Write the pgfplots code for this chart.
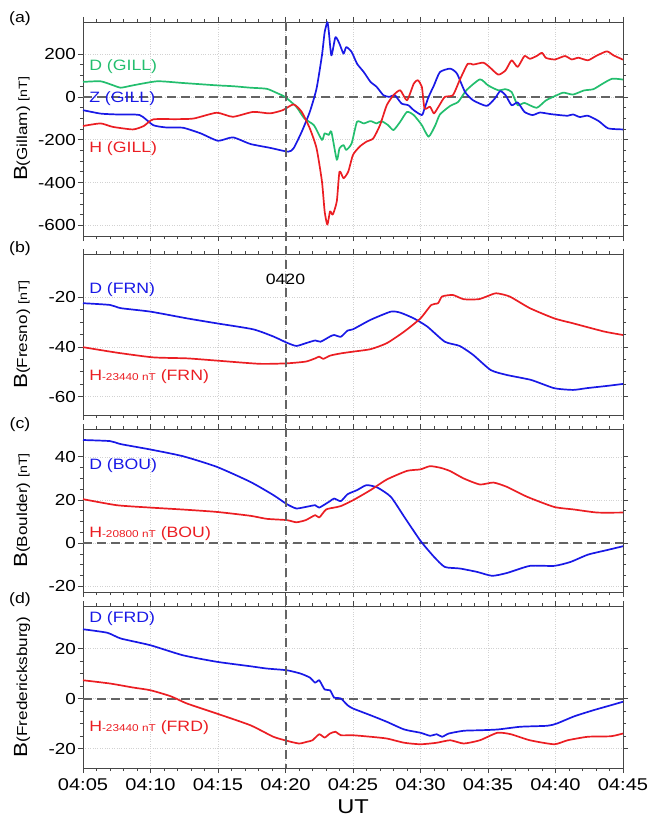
\documentclass[border=0pt]{standalone}
\usepackage{fontspec}
\setmainfont[FakeStretch=1.18]{Liberation Sans}
\usepackage{pgfplots}
\pgfplotsset{compat=1.18}

\definecolor{cgreen}{RGB}{35,190,110}
\definecolor{cblue}{RGB}{25,25,230}
\definecolor{cred}{RGB}{235,30,35}
\definecolor{axgray}{RGB}{70,70,70}
\definecolor{dashgray}{RGB}{100,100,100}

\newcommand{\fs}[1]{\fontsize{#1}{#1}\selectfont}

\tikzset{
  curve/.style={line width=1.7pt, line join=round, smooth, tension=0.35},
  zline/.style={dashgray, dash pattern=on 9pt off 5pt, line width=2pt},
  lbl/.style={anchor=west, font=\fs{15}, inner sep=0pt},
}

\pgfplotsset{
  mag/.style={
    scale only axis, width=540pt,
    xmin=5, xmax=45,
    xtick={5,10,...,45}, minor x tick num=4,
    minor y tick num=3,
    tick align=outside,
    xtick pos=both, ytick pos=both,
    major tick length=5pt, minor tick length=3pt,
    grid=major,
    major grid style={dotted, gray!35, line width=0.6pt},
    axis line style={axgray, line width=0.9pt},
    every tick/.style={axgray, line width=0.8pt},
    tick label style={font=\fs{16}},
    /pgf/number format/assume math mode=true,
    yticklabel style={inner sep=2pt},
    xticklabels={},
    ylabel style={at={(axis description cs:-0.113,0.5)}, anchor=center},
  },
}

\begin{document}
\begin{tikzpicture}
\path[use as bounding box] (0pt,0pt) rectangle (651pt,-828pt);

% (a) Gillam
\begin{axis}[mag, at={(83pt,-236pt)}, anchor=south west, height=214pt,
  ymin=-650, ymax=350, ytick={-600,-400,-200,0,200},
  ylabel={\fs{19}B\fs{14.5}(Gillam) \fs{12}[nT]}]
  \draw[zline] (axis cs:5,0) -- (axis cs:45,0);
  \addplot[curve, cgreen] coordinates {
    (5,70)(6.3,73)(7.2,55)(7.8,43)(8.7,54)(10.5,73)(12.4,65)(14.9,54)(16.1,50)(17.4,43)
    (18.6,38)(19.3,20)(19.96,0)(20.8,-46)(21.4,-101)(22.1,-132)(22.7,-201)(22.9,-170)
    (23.2,-178)(23.4,-163)(23.8,-294)(24.0,-240)(24.3,-225)(24.5,-248)(24.9,-217)
    (25.3,-116)(25.8,-124)(26.3,-113)(26.75,-124)(27.1,-113)(27.6,-132)(28.0,-155)
    (28.5,-116)(29.0,-70)(29.5,-85)(30.1,-132)(30.6,-186)(31.1,-132)(31.44,-82)
    (32.2,-42)(32.8,-23)(33.4,31)(34.4,82)(35.0,54)(35.76,31)(36.3,36)(36.75,23)
    (37.2,-39)(37.7,-28)(38.6,-51)(39.3,-16)(40.1,8)(40.6,20)(41.3,11)(42.1,30)
    (42.8,36)(43.5,62)(44.2,85)(45,81)};
  \addplot[curve, cblue] coordinates {
    (5,-62)(6.3,-78)(7.5,-82)(9.2,-85)(10.2,-132)(11.2,-143)(12.4,-144)(13.7,-170)
    (15.0,-205)(16.1,-189)(17.4,-220)(18.85,-238)(20.2,-256)(20.6,-240)(21.2,-163)
    (21.8,-70)(22.3,39)(22.7,194)(22.9,302)(23.1,349)(23.2,310)(23.4,194)(23.7,279)
    (24.0,248)(24.3,202)(24.5,233)(24.9,210)(25.3,155)(25.8,116)(26.3,70)(26.75,47)
    (27.25,8)(27.7,0)(28.1,8)(28.6,-31)(29.1,-39)(29.5,-62)(30.1,-85)(30.3,-54)(30.6,0)
    (31.0,54)(31.44,116)(32.2,132)(32.7,109)(33.3,23)(33.9,-16)(34.9,-42)(35.5,-8)
    (35.9,27)(36.3,8)(36.75,-39)(37.2,-26)(37.7,-70)(38.3,-85)(38.85,-73)(39.6,-80)
    (40.3,-85)(40.9,-88)(41.3,-82)(41.8,-94)(42.4,-88)(43.2,-113)(43.9,-147)(45,-152)};
  \addplot[curve, cred] coordinates {
    (5,-136)(6.3,-124)(7.2,-140)(8.7,-152)(9.5,-136)(10.2,-105)(11.9,-104)(13.2,-101)
    (14.9,-74)(16.1,-93)(17.6,-70)(18.85,-77)(19.8,-62)(20.6,-35)(21.2,-70)(21.8,-147)
    (22.3,-240)(22.7,-395)(22.9,-535)(23.1,-597)(23.3,-535)(23.5,-550)(23.8,-488)
    (24.0,-349)(24.3,-380)(24.65,-349)(25.0,-271)(25.5,-232)(26.0,-209)(26.5,-194)
    (27.0,-132)(27.5,-39)(28.0,8)(28.5,31)(29.0,-16)(29.5,62)(29.8,78)(30.1,47)(30.3,-54)
    (30.7,-46)(31.0,-77)(31.4,-39)(31.8,0)(32.4,8)(32.9,78)(33.5,155)(33.9,151)
    (34.65,160)(35.1,140)(35.76,104)(36.3,124)(36.75,171)(37.2,140)(37.7,191)(38.1,178)
    (38.6,191)(39.0,206)(39.3,182)(39.96,175)(40.7,191)(41.2,175)(41.7,183)(42.4,171)
    (43.0,191)(43.8,213)(44.3,194)(45,174)};
  \node[lbl, text=cgreen] at (axis cs:5.45,143) {D (GILL)};
  \node[lbl, text=cblue] at (axis cs:5.45,-6) {Z (GILL)};
  \node[lbl, text=cred] at (axis cs:5.45,-243) {H (GILL)};
  \coordinate (vtop) at (axis cs:20,350);
\end{axis}

% (b) Fresno
\begin{axis}[mag, at={(83pt,-415pt)}, anchor=south west, height=161pt,
  ymin=-67.4, ymax=-2.6, ytick={-60,-40,-20},
  ylabel={\fs{19}B\fs{14.5}(Fresno) \fs{12}[nT]}]
  \addplot[curve, cblue] coordinates {
    (5,-22.4)(7,-23.1)(7.8,-24.4)(10,-25.8)(12.7,-28.5)(14.9,-30.5)(17.6,-32.9)
    (19.1,-35.8)(20.1,-38.3)(20.8,-39.6)(21.5,-38.5)(22.2,-37.4)(22.6,-37.9)(23.3,-35.8)
    (23.6,-35.2)(24.1,-35.9)(24.6,-33.4)(25.0,-32.9)(26.3,-29.1)(27.8,-25.8)(28.5,-26.2)
    (29.5,-28.5)(30.5,-31.8)(31.8,-37.9)(32.9,-39.6)(33.9,-43.2)(35.2,-49.3)(36.4,-51.3)
    (38.2,-53.3)(39.9,-56.6)(41.3,-57.3)(42.3,-56.6)(43.8,-55.7)(45,-54.9)};
  \addplot[curve, cred] coordinates {
    (5,-40.1)(7.5,-42.3)(10.2,-44.2)(12.7,-44.6)(14.9,-45.5)(18.1,-46.8)(20.1,-46.6)
    (21.5,-45.9)(22.2,-44.6)(22.5,-43.9)(22.8,-44.8)(23.3,-43.5)(24.1,-42.6)(25.0,-41.9)
    (26.3,-40.9)(27.5,-38.5)(28.8,-33.8)(30.0,-28.5)(30.8,-23.1)(31.3,-22.4)(31.6,-19.7)
    (32.4,-19.1)(33.2,-20.8)(34.3,-20.8)(34.9,-19.7)(35.6,-18.4)(36.6,-19.7)(38.1,-24.4)
    (39.9,-28.5)(41.3,-30.5)(43.6,-33.8)(45,-35.2)};
  \node[lbl, text=cblue] at (axis cs:5.45,-17.1) {D (FRN)};
  \node[lbl, text=cred] at (axis cs:5.45,-52) {H{\fs{10}-23440 nT} (FRN)};
  \node[font=\fs{15}] at (axis cs:20,-12.6) {0420};
\end{axis}

% (c) Boulder
\begin{axis}[mag, at={(83pt,-592pt)}, anchor=south west, height=163pt,
  ymin=-22.6, ymax=52.9, ytick={-20,0,20,40},
  ylabel={\fs{19}B\fs{14.5}(Boulder) \fs{12}[nT]}]
  \draw[zline] (axis cs:5,0) -- (axis cs:45,0);
  \addplot[curve, cblue] coordinates {
    (5,47.8)(7,47.3)(7.8,45.9)(10,43.4)(12.4,40.3)(14.9,35.4)(17.4,28.4)(19.1,22.3)
    (20.1,18.1)(20.8,16.1)(21.5,16.8)(22.2,17.6)(22.5,16.5)(23.3,19.5)(23.6,20.7)
    (24.1,19.5)(24.6,22.7)(25.3,24.6)(26.0,26.9)(26.8,25.8)(27.8,21.5)(28.8,12.2)
    (30.0,1.1)(31.0,-6.3)(31.8,-11.0)(32.9,-11.7)(34.2,-13.3)(35.3,-15.1)(36.4,-13.8)
    (38.1,-10.5)(39.9,-10.5)(41.1,-8.7)(42.4,-5.3)(43.8,-3.2)(45,-1.4)};
  \addplot[curve, cred] coordinates {
    (5,20.4)(7.5,17.6)(10,16.5)(12.4,15.6)(14.9,14.5)(17.4,12.7)(18.6,11.3)(20.1,10.7)
    (20.8,9.7)(21.5,10.7)(22.2,13.0)(22.5,11.9)(23.0,15.6)(23.6,16.5)(24.1,17.2)
    (25.0,19.9)(26.3,24.6)(27.5,29.5)(29.0,33.5)(30.0,34.2)(30.7,35.7)(31.5,34.9)
    (32.2,33.4)(33.2,30.0)(34.4,27.2)(35.4,28.1)(36.4,26.1)(37.9,21.5)(39.9,16.8)
    (41.4,15.6)(43.1,14.2)(45,14.2)};
  \node[lbl, text=cblue] at (axis cs:5.45,36) {D (BOU)};
  \node[lbl, text=cred] at (axis cs:5.45,4.5) {H{\fs{10}-20800 nT} (BOU)};
\end{axis}

% (d) Fredericksburg
\begin{axis}[mag, at={(83pt,-768pt)}, anchor=south west, height=162pt,
  ymin=-27.8, ymax=37, ytick={-20,0,20},
  xticklabels={04:05,04:10,04:15,04:20,04:25,04:30,04:35,04:40,04:45},
  xticklabel style={font=\fs{17}, yshift=-2pt},
  xlabel={UT}, xlabel style={font=\fs{20}, yshift=-2pt},
  ylabel={\fs{19}B\fs{14.5}(Fredericksburg)}]
  \draw[zline] (axis cs:5,0) -- (axis cs:45,0);
  \addplot[curve, cblue] coordinates {
    (5,27.7)(6.8,26.3)(7.8,24.0)(10,21.3)(12.4,17.3)(14.9,14.7)(17.4,12.9)(18.6,12.0)
    (20.1,11.3)(21.1,10.0)(21.8,8.4)(22.2,6.3)(22.5,7.3)(22.9,3.6)(23.3,3.3)(23.6,0.4)
    (24.1,0)(24.6,-2.7)(25.0,-4.0)(26.3,-6.7)(27.5,-9.3)(28.8,-12.4)(30.0,-13.7)
    (30.7,-14.9)(31.2,-14.3)(31.6,-15.3)(32.1,-14.0)(33.2,-12.9)(34.4,-12.7)(35.7,-12.4)
    (37.4,-11.3)(39.4,-10.9)(40.1,-10.0)(41.4,-7.1)(42.8,-4.7)(44.1,-2.7)(45,-1.3)};
  \addplot[curve, cred] coordinates {
    (5,7.3)(7,6.0)(8.7,4.4)(10,3.3)(11.5,0.9)(12.7,-2.0)(14.9,-6.0)(17.4,-10.7)
    (19.1,-15.3)(20.1,-16.9)(21.0,-18.0)(21.6,-17.3)(22.0,-16.7)(22.5,-14.3)(22.9,-15.6)
    (23.3,-14.0)(23.7,-13.3)(24.1,-14.7)(25.0,-14.7)(26.3,-15.3)(27.5,-16.0)(28.8,-17.7)
    (30.0,-18.3)(31.2,-17.7)(32.2,-16.7)(33.2,-18.0)(34.4,-16.7)(35.7,-13.7)(36.7,-14.3)
    (38.1,-16.7)(39.9,-18.3)(40.9,-16.7)(42.4,-15.3)(44.1,-15.1)(45,-14.0)};
  \node[lbl, text=cblue] at (axis cs:5.45,32) {D (FRD)};
  \node[lbl, text=cred] at (axis cs:5.45,-11.6) {H{\fs{10}-23440 nT} (FRD)};
  \coordinate (vbot) at (axis cs:20,-27.8);
\end{axis}

% marker line at 04:20 through all panels
\draw[zline] (vtop) -- (vbot);

% panel letters
\node[font=\fs{15}] at (20pt,-19pt) {(a)};
\node[font=\fs{15}] at (20pt,-249pt) {(b)};
\node[font=\fs{15}] at (20pt,-425pt) {(c)};
\node[font=\fs{15}] at (20pt,-600pt) {(d)};
\end{tikzpicture}
\end{document}
